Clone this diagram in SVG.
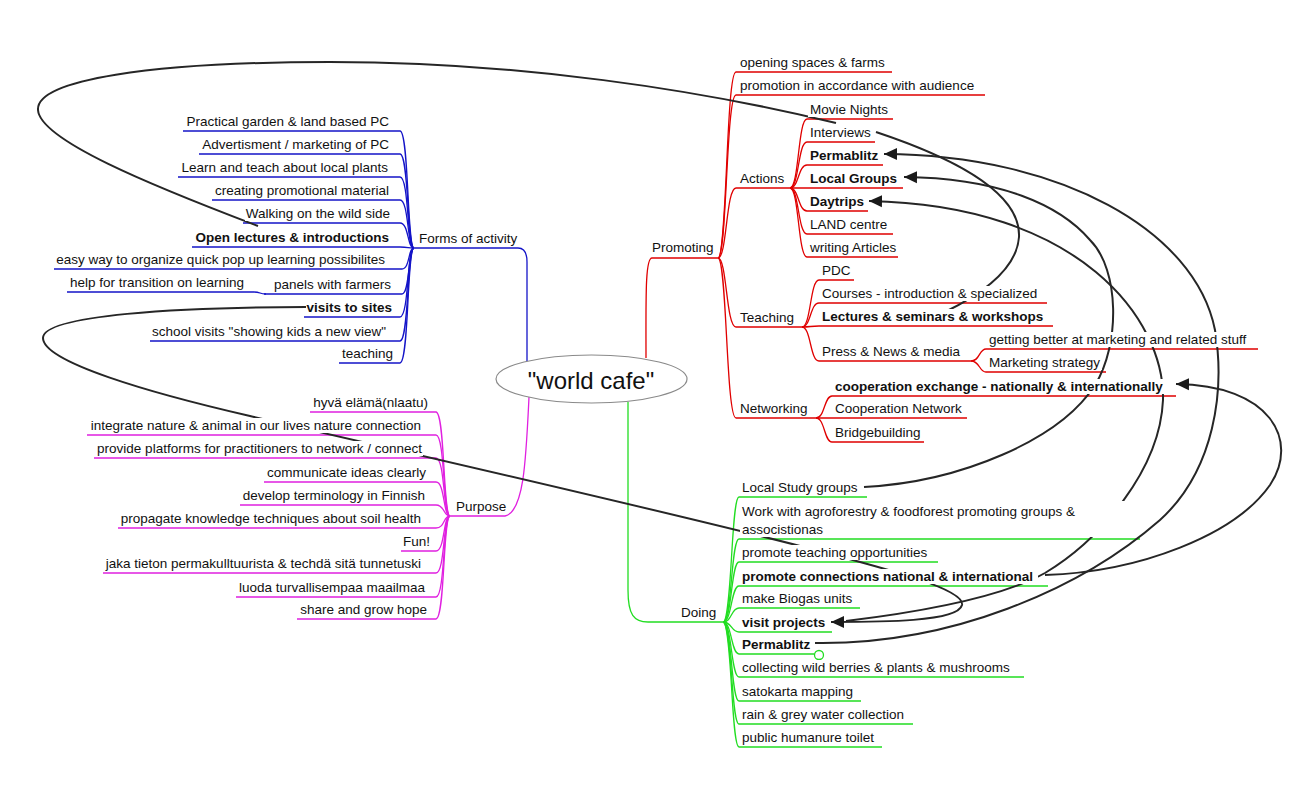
<svg xmlns="http://www.w3.org/2000/svg" width="1310" height="800" viewBox="0 0 1310 800">
<style>
.t{font-family:"Liberation Sans",Arial,sans-serif;font-size:13.5px;fill:#111}
.b{font-weight:bold}
.bg{fill:#fff}
.e{fill:none;stroke-width:1.3}
.eb{stroke:#1414c8}
.er{stroke:#e00000}
.em{stroke:#e020e0}
.eg{stroke:#22dd22}
.lk{fill:none;stroke:#262626;stroke-width:2}
</style>
<defs>
<marker id="ah" viewBox="0 -7 14 14" refX="13" refY="0" markerWidth="14" markerHeight="14" markerUnits="userSpaceOnUse" orient="auto"><path d="M0,-6 L13,0 L0,6 Z" fill="#1a1a1a"/></marker>
</defs>
<rect width="1310" height="800" fill="#fff"/>
<g id="connectors">
<g id="edges">
<path class="e eb" d="M 414,248 H 518 C 524,248 527,252 527,262 V 362"/>
<path class="e eb" d="M 183,131 H 400 C 409,131 407,248 414,248"/>
<path class="e eb" d="M 199,154 H 400 C 409,154 407,248 414,248"/>
<path class="e eb" d="M 178,177 H 400 C 409,177 407,248 414,248"/>
<path class="e eb" d="M 212,200 H 400 C 409,200 407,248 414,248"/>
<path class="e eb" d="M 243,223 H 400 C 409,223 407,248 414,248"/>
<path class="e eb" d="M 192,247 H 400 C 409,247 407,248 414,248"/>
<path class="e eb" d="M 54,269 H 402 C 410,269 408,248 414,248"/>
<path class="e eb" d="M 264,294 H 402 C 410,294 408,248 414,248"/>
<path class="e eb" d="M 67,292 H 254 C 261,292 259,294 266,294"/>
<path class="e eb" d="M 304,317 H 400 C 409,317 407,248 414,248"/>
<path class="e eb" d="M 150,341 H 400 C 409,341 407,248 414,248"/>
<path class="e eb" d="M 339,363 H 400 C 409,363 407,248 414,248"/>
<path class="e em" d="M 529,397 C 526,460 524,512 505,516 H 450"/>
<path class="e em" d="M 310,412 H 436 C 445,412 443,516 450,516"/>
<path class="e em" d="M 87,435 H 436 C 445,435 443,516 450,516"/>
<path class="e em" d="M 94,458 H 436 C 445,458 443,516 450,516"/>
<path class="e em" d="M 264,482 H 436 C 445,482 443,516 450,516"/>
<path class="e em" d="M 240,505 H 436 C 445,505 443,516 450,516"/>
<path class="e em" d="M 118,528 H 436 C 445,528 443,516 450,516"/>
<path class="e em" d="M 401,551 H 436 C 445,551 443,516 450,516"/>
<path class="e em" d="M 103,573 H 436 C 445,573 443,516 450,516"/>
<path class="e em" d="M 236,597 H 436 C 445,597 443,516 450,516"/>
<path class="e em" d="M 297,619 H 436 C 445,619 443,516 450,516"/>
<path class="e er" d="M 646,358 C 646,300 645,258 652,258 H 718"/>
<path class="e er" d="M 718,258 C 727,258 726,72 736,72 H 892"/>
<path class="e er" d="M 718,258 C 727,258 726,95 736,95 H 985"/>
<path class="e er" d="M 718,258 C 727,258 726,188 736,188 H 790"/>
<path class="e er" d="M 718,258 C 727,258 726,327 736,327 H 802"/>
<path class="e er" d="M 718,258 C 727,258 726,418 736,418 H 816"/>
<path class="e er" d="M 790,188 C 799,188 798,119 807,119 H 893"/>
<path class="e er" d="M 790,188 C 799,188 798,142 807,142 H 875"/>
<path class="e er" d="M 790,188 C 799,188 798,165 807,165 H 883"/>
<path class="e er" d="M 790,188 H 903"/>
<path class="e er" d="M 790,188 C 799,188 798,211 807,211 H 868"/>
<path class="e er" d="M 790,188 C 799,188 798,234 807,234 H 893"/>
<path class="e er" d="M 790,188 C 799,188 798,257 807,257 H 898"/>
<path class="e er" d="M 802,327 C 811,327 810,280 819,280 H 854"/>
<path class="e er" d="M 802,327 C 811,327 810,303 819,303 H 1047"/>
<path class="e er" d="M 802,327 C 811,327 810,326 819,326 H 1053"/>
<path class="e er" d="M 802,327 C 811,327 810,361 819,361 H 971"/>
<path class="e er" d="M 971,361 C 980,361 979,349 986,349 H 1258"/>
<path class="e er" d="M 971,361 C 980,361 979,372 986,372 H 1106"/>
<path class="e er" d="M 816,418 C 825,418 824,396 832,396 H 1176"/>
<path class="e er" d="M 816,418 H 967"/>
<path class="e er" d="M 816,418 C 825,418 824,442 832,442 H 924"/>
<path class="e eg" d="M 628,402 V 590 C 628,615 634,622 648,622 H 723"/>
<path class="e eg" d="M 723,622 C 732,622 731,497 739,497 H 867"/>
<path class="e eg" d="M 723,622 C 732,622 731,539 739,539 H 1140"/>
<path class="e eg" d="M 723,622 C 732,622 731,562 739,562 H 938"/>
<path class="e eg" d="M 723,622 C 732,622 731,586 739,586 H 1048"/>
<path class="e eg" d="M 723,622 C 732,622 731,608 739,608 H 860"/>
<path class="e eg" d="M 723,622 C 732,622 731,632 739,632 H 832"/>
<path class="e eg" d="M 723,622 C 732,622 731,654 739,654 H 814"/>
<path class="e eg" d="M 723,622 C 732,622 731,677 739,677 H 1024"/>
<path class="e eg" d="M 723,622 C 732,622 731,701 739,701 H 861"/>
<path class="e eg" d="M 723,622 C 732,622 731,724 739,724 H 913"/>
<path class="e eg" d="M 723,622 C 732,622 731,747 739,747 H 882"/>
<circle class="e eg" cx="819" cy="655" r="4.5" fill="#fff"/>
</g>
<g id="links">
<path class="lk" d="M 258,226 C 150,185 40,140 38,110 C 36,80 150,62 330,62 C 520,62 700,90 836,123"/>
<path class="lk" marker-end="url(#ah)" d="M 306,307 C 180,307 43,315 43,338 C 43,362 150,393 250,416 C 450,462 700,520 800,546 C 900,572 965,590 962,605 C 958,622 880,622 831,622"/>
<path class="lk" d="M 876,132 C 960,160 1021,195 1019,237 C 1017,265 990,290 945,312"/>
<path class="lk" marker-end="url(#ah)" d="M 815,643 C 950,645 1080,590 1160,520 C 1215,470 1225,390 1215,330 C 1195,230 1060,155 884,154"/>
<path class="lk" marker-end="url(#ah)" d="M 864,487 C 960,482 1060,440 1095,385 C 1120,345 1120,270 1090,240 C 1060,205 1000,178 904,177"/>
<path class="lk" marker-end="url(#ah)" d="M 846,621 C 920,612 1000,598 1045,573 C 1100,540 1160,470 1163,400 C 1165,320 1080,205 869,201"/>
<path class="lk" marker-end="url(#ah)" d="M 1045,575 C 1140,572 1235,535 1270,485 C 1300,440 1270,385 1176,384"/>
</g>
</g>
<g id="root"><ellipse cx="591.5" cy="379" rx="95.5" ry="24" fill="#fff" stroke="#8a8a8a" stroke-width="1.2"/><text x="591" y="389" text-anchor="middle" font-family="Liberation Sans, Arial, sans-serif" font-size="24" fill="#111">"world cafe"</text></g>
<g id="forms"><rect class="bg" x="416" y="231" width="90" height="15"/><text class="t" x="419" y="243">Forms of activity</text></g>
<g id="f1" text-anchor="end"><rect class="bg" x="185" y="114" width="207" height="15"/><text class="t" x="389" y="126">Practical garden &amp; land based PC</text></g>
<g id="f2" text-anchor="end"><rect class="bg" x="201" y="137" width="191" height="15"/><text class="t" x="389" y="149">Advertisment / marketing of PC</text></g>
<g id="f3" text-anchor="end"><rect class="bg" x="180" y="160" width="211" height="15"/><text class="t" x="388" y="172">Learn and teach about local plants</text></g>
<g id="f4" text-anchor="end"><rect class="bg" x="214" y="183" width="178" height="15"/><text class="t" x="389" y="195">creating promotional material</text></g>
<g id="f5" text-anchor="end"><rect class="bg" x="245" y="206" width="148" height="15"/><text class="t" x="390" y="218">Walking on the wild side</text></g>
<g id="f6" text-anchor="end"><rect class="bg" x="194" y="230" width="196" height="15"/><text class="t b" x="389" y="242">Open lectures &amp; introductions</text></g>
<g id="f7" text-anchor="end"><rect class="bg" x="56" y="252" width="330" height="15"/><text class="t" x="385" y="264">easy way to organize quick pop up learning possibilites</text></g>
<g id="f8" text-anchor="end"><rect class="bg" x="266" y="277" width="126" height="15"/><text class="t" x="391" y="289">panels with farmers</text></g>
<g id="f8a" text-anchor="end"><rect class="bg" x="69" y="275" width="176" height="15"/><text class="t" x="244" y="287">help for transition on learning</text></g>
<g id="f9" text-anchor="end"><rect class="bg" x="306" y="300" width="87" height="15"/><text class="t b" x="392" y="312">visits to sites</text></g>
<g id="f10" text-anchor="end"><rect class="bg" x="152" y="324" width="235" height="15"/><text class="t" x="386" y="336">school visits "showing kids a new view"</text></g>
<g id="f11" text-anchor="end"><rect class="bg" x="341" y="346" width="53" height="15"/><text class="t" x="393" y="358">teaching</text></g>
<g id="purpose"><rect class="bg" x="452" y="499" width="54" height="15"/><text class="t" x="456" y="511">Purpose</text></g>
<g id="q1" text-anchor="end"><rect class="bg" x="312" y="395" width="117" height="15"/><text class="t" x="428" y="407">hyvä elämä(nlaatu)</text></g>
<g id="q2" text-anchor="end"><rect class="bg" x="89" y="418" width="333" height="15"/><text class="t" x="421" y="430">integrate nature &amp; animal in our lives nature connection</text></g>
<g id="q3" text-anchor="end"><rect class="bg" x="96" y="441" width="327" height="15"/><text class="t" x="422" y="453">provide platforms for practitioners to network / connect</text></g>
<g id="q4" text-anchor="end"><rect class="bg" x="266" y="465" width="161" height="15"/><text class="t" x="426" y="477">communicate ideas clearly</text></g>
<g id="q5" text-anchor="end"><rect class="bg" x="242" y="488" width="184" height="15"/><text class="t" x="425" y="500">develop terminology in Finnish</text></g>
<g id="q6" text-anchor="end"><rect class="bg" x="120" y="511" width="302" height="15"/><text class="t" x="421" y="523">propagate knowledge techniques about soil health</text></g>
<g id="q7" text-anchor="end"><rect class="bg" x="403" y="534" width="28" height="15"/><text class="t" x="430" y="546">Fun!</text></g>
<g id="q8" text-anchor="end"><rect class="bg" x="105" y="556" width="317" height="15"/><text class="t" x="421" y="568">jaka tieton permakulltuurista &amp; techdä sitä tunnetuski</text></g>
<g id="q9" text-anchor="end"><rect class="bg" x="238" y="580" width="188" height="15"/><text class="t" x="425" y="592">luoda turvallisempaa maailmaa</text></g>
<g id="q10" text-anchor="end"><rect class="bg" x="299" y="602" width="129" height="15"/><text class="t" x="427" y="614">share and grow hope</text></g>
<g id="promoting"><rect class="bg" x="650" y="240" width="66" height="15"/><text class="t" x="652" y="252">Promoting</text></g>
<g id="r1"><rect class="bg" x="738" y="55" width="152" height="15"/><text class="t" x="740" y="67">opening spaces &amp; farms</text></g>
<g id="r2"><rect class="bg" x="738" y="78" width="245" height="15"/><text class="t" x="740" y="90">promotion in accordance with audience</text></g>
<g id="actions"><rect class="bg" x="738" y="171" width="50" height="15"/><text class="t" x="740" y="183">Actions</text></g>
<g id="a1"><rect class="bg" x="808" y="102" width="83" height="15"/><text class="t" x="810" y="114">Movie Nights</text></g>
<g id="a2"><rect class="bg" x="808" y="125" width="64" height="15"/><text class="t" x="810" y="137">Interviews</text></g>
<g id="a3"><rect class="bg" x="808" y="148" width="72" height="15"/><text class="t b" x="810" y="160">Permablitz</text></g>
<g id="a4"><rect class="bg" x="808" y="171" width="92" height="15"/><text class="t b" x="810" y="183">Local Groups</text></g>
<g id="a5"><rect class="bg" x="808" y="194" width="57" height="15"/><text class="t b" x="810" y="206">Daytrips</text></g>
<g id="a6"><rect class="bg" x="808" y="217" width="83" height="15"/><text class="t" x="810" y="229">LAND centre</text></g>
<g id="a7"><rect class="bg" x="808" y="240" width="88" height="15"/><text class="t" x="810" y="252">writing Articles</text></g>
<g id="teaching"><rect class="bg" x="738" y="310" width="60" height="15"/><text class="t" x="740" y="322">Teaching</text></g>
<g id="t1"><rect class="bg" x="820" y="263" width="32" height="15"/><text class="t" x="822" y="275">PDC</text></g>
<g id="t2"><rect class="bg" x="820" y="286" width="225" height="15"/><text class="t" x="822" y="298">Courses - introduction &amp; specialized</text></g>
<g id="t3"><rect class="bg" x="820" y="309" width="231" height="15"/><text class="t b" x="822" y="321">Lectures &amp; seminars &amp; workshops</text></g>
<g id="t4"><rect class="bg" x="820" y="344" width="140" height="15"/><text class="t" x="822" y="356">Press &amp; News &amp; media</text></g>
<g id="t4a"><rect class="bg" x="987" y="332" width="268" height="15"/><text class="t" x="989" y="344">getting better at marketing and related stuff</text></g>
<g id="t4b"><rect class="bg" x="987" y="355" width="115" height="15"/><text class="t" x="989" y="367">Marketing strategy</text></g>
<g id="networking"><rect class="bg" x="738" y="401" width="74" height="15"/><text class="t" x="740" y="413">Networking</text></g>
<g id="n1"><rect class="bg" x="833" y="379" width="340" height="15"/><text class="t b" x="835" y="391">cooperation exchange - nationally &amp; internationally</text></g>
<g id="n2"><rect class="bg" x="833" y="401" width="132" height="15"/><text class="t" x="835" y="413">Cooperation Network</text></g>
<g id="n3"><rect class="bg" x="833" y="425" width="89" height="15"/><text class="t" x="835" y="437">Bridgebuilding</text></g>
<g id="doing"><rect class="bg" x="679" y="605" width="42" height="15"/><text class="t" x="681" y="617">Doing</text></g>
<g id="d1"><rect class="bg" x="740" y="480" width="120" height="15"/><text class="t" x="742" y="492">Local Study groups</text></g>
<g id="d2"><rect class="bg" x="740" y="501" width="396" height="36"/><text class="t" x="742" y="516">Work with agroforestry &amp; foodforest promoting groups &amp;</text><text class="t" x="742" y="534">associstionas</text></g>
<g id="d3"><rect class="bg" x="740" y="545" width="196" height="15"/><text class="t" x="742" y="557">promote teaching opportunities</text></g>
<g id="d4"><rect class="bg" x="740" y="569" width="298" height="15"/><text class="t b" x="742" y="581">promote connections national &amp; international</text></g>
<g id="d5"><rect class="bg" x="740" y="591" width="118" height="15"/><text class="t" x="742" y="603">make Biogas units</text></g>
<g id="d6"><rect class="bg" x="740" y="615" width="88" height="15"/><text class="t b" x="742" y="627">visit projects</text></g>
<g id="d7"><rect class="bg" x="740" y="637" width="68" height="15"/><text class="t b" x="742" y="649">Permablitz</text></g>
<g id="d8"><rect class="bg" x="740" y="660" width="282" height="15"/><text class="t" x="742" y="672">collecting wild berries &amp; plants &amp; mushrooms</text></g>
<g id="d9"><rect class="bg" x="740" y="684" width="118" height="15"/><text class="t" x="742" y="696">satokarta mapping</text></g>
<g id="d10"><rect class="bg" x="740" y="707" width="170" height="15"/><text class="t" x="742" y="719">rain &amp; grey water collection</text></g>
<g id="d11"><rect class="bg" x="740" y="730" width="140" height="15"/><text class="t" x="742" y="742">public humanure toilet</text></g>
</svg>
